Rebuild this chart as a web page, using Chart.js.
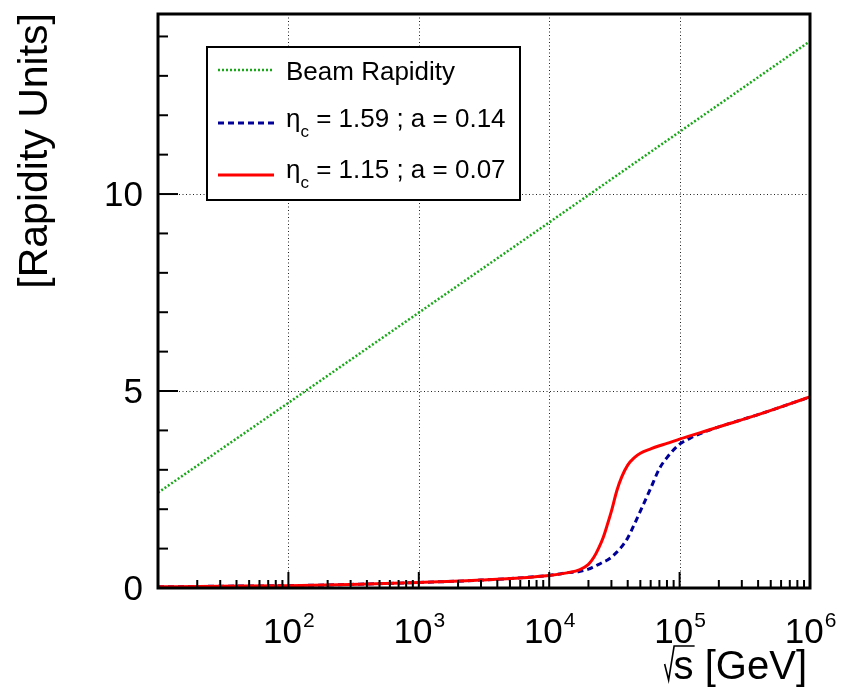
<!DOCTYPE html>
<html>
<head>
<meta charset="utf-8">
<script src="https://cdn.jsdelivr.net/npm/chart.js@4.4.0/dist/chart.umd.min.js"></script>
<style>
  html, body { margin: 0; padding: 0; background: #fff; }
  #wrap { width: 841px; height: 693px; }
</style>
</head>
<body>
<div id="wrap"><canvas id="rapidity"></canvas></div>
<script>
// sqrt(s) sample points in GeV (same for both eta_c curves)
const sqrtS = [10, 30, 100, 300, 1000, 3000, 10000, 14000, 17000, 20000, 22000, 24000, 26000, 28000,
  30000, 33000, 36000, 40000, 45000, 50000, 60000, 70000, 80000, 100000, 120000, 150000, 200000, 400000, 1000000];
// eta_c = 1.15 ; a = 0.07 (red, solid)
const redY = [0.03, 0.045, 0.06, 0.09, 0.14, 0.2, 0.32, 0.39, 0.46, 0.60, 0.78, 1.02, 1.29, 1.62,
  1.95, 2.47, 2.82, 3.12, 3.31, 3.42, 3.53, 3.61, 3.67, 3.78, 3.86, 3.96, 4.09, 4.40, 4.85];
// eta_c = 1.59 ; a = 0.14 (blue, dashed)
const blueY = [0.03, 0.045, 0.06, 0.09, 0.14, 0.2, 0.32, 0.39, 0.42, 0.48, 0.54, 0.60, 0.66, 0.71,
  0.78, 0.91, 1.05, 1.27, 1.62, 1.95, 2.53, 3.03, 3.31, 3.65, 3.80, 3.94, 4.09, 4.40, 4.85];
// beam rapidity (green, dotted)
const beamX = [10, 100, 1000, 10000, 100000, 1000000];
const beamY = [2.42, 4.70, 6.99, 9.28, 11.58, 13.88];

const xDecades = [10, 100, 1000, 10000, 100000, 1000000];
const xLabelExp = ['', '2', '3', '4', '5', '6'];
const yMajor = [0, 5, 10];
const yMinor = [1, 2, 3, 4, 6, 7, 8, 9, 11, 12, 13, 14];

const FONT = '"Liberation Sans", Arial, sans-serif';

const toPoints = (xs, ys) => xs.map((x, i) => ({ x: x, y: ys[i] }));

// ROOT-like frame, ticks, labels and legend
const rootFrame = {
  id: 'rootFrame',
  beforeDatasetsDraw(chart) {
    const { ctx, chartArea: a, scales: { x, y } } = chart;
    ctx.save();
    ctx.strokeStyle = '#222';
    ctx.lineWidth = 1;
    ctx.setLineDash([1, 2.5]);
    xDecades.slice(1, -1).forEach(v => {
      const px = Math.round(x.getPixelForValue(v)) + 0.5;
      ctx.beginPath(); ctx.moveTo(px, a.top); ctx.lineTo(px, a.bottom); ctx.stroke();
    });
    yMajor.slice(1).forEach(v => {
      const py = Math.round(y.getPixelForValue(v)) + 0.5;
      ctx.beginPath(); ctx.moveTo(a.left, py); ctx.lineTo(a.right, py); ctx.stroke();
    });
    ctx.restore();
  },
  afterDatasetsDraw(chart) {
    const { ctx, chartArea: a, scales: { x, y } } = chart;
    ctx.save();
    ctx.setLineDash([]);
    ctx.strokeStyle = '#000';
    ctx.fillStyle = '#000';

    // ticks on x axis (inside)
    ctx.lineWidth = 2;
    xDecades.forEach((d, i) => {
      const px = x.getPixelForValue(d);
      ctx.beginPath(); ctx.moveTo(px, a.bottom); ctx.lineTo(px, a.bottom - 16); ctx.stroke();
      if (i === xDecades.length - 1) return;
      for (let k = 2; k <= 9; k++) {
        const mx = x.getPixelForValue(d * k);
        ctx.beginPath(); ctx.moveTo(mx, a.bottom); ctx.lineTo(mx, a.bottom - 8); ctx.stroke();
      }
    });
    // ticks on y axis (inside)
    yMajor.forEach(v => {
      const py = y.getPixelForValue(v);
      ctx.beginPath(); ctx.moveTo(a.left, py); ctx.lineTo(a.left + 20, py); ctx.stroke();
    });
    yMinor.forEach(v => {
      const py = y.getPixelForValue(v);
      ctx.beginPath(); ctx.moveTo(a.left, py); ctx.lineTo(a.left + 10, py); ctx.stroke();
    });

    // frame
    ctx.lineWidth = 3;
    ctx.strokeRect(a.left, a.top, a.right - a.left, a.bottom - a.top);

    // y tick labels
    ctx.font = '35px ' + FONT;
    ctx.textAlign = 'right';
    ctx.textBaseline = 'alphabetic';
    yMajor.forEach(v => {
      ctx.fillText(String(v), a.left - 15, y.getPixelForValue(v) + 12);
    });

    // x tick labels 10^n
    xDecades.forEach((d, i) => {
      if (!xLabelExp[i]) return;
      const px = x.getPixelForValue(d);
      ctx.font = '35px ' + FONT;
      const wBase = ctx.measureText('10').width;
      ctx.font = '21px ' + FONT;
      const wExp = ctx.measureText(xLabelExp[i]).width;
      const left = px - (wBase + wExp) / 2;
      ctx.textAlign = 'left';
      ctx.font = '35px ' + FONT;
      ctx.fillText('10', left, a.bottom + 55);
      ctx.font = '21px ' + FONT;
      ctx.fillText(xLabelExp[i], left + wBase + 1, a.bottom + 39);
    });

    // x title: sqrt(s) [GeV]
    ctx.font = '40px ' + FONT;
    ctx.textAlign = 'right';
    const xt = 's [GeV]';
    const xtRight = a.right - 3;
    const xtBase = a.bottom + 91;
    ctx.fillText(xt, xtRight, xtBase);
    const sLeft = xtRight - ctx.measureText(xt).width;
    const sW = ctx.measureText('s').width;
    ctx.lineWidth = 1.6;
    ctx.beginPath();
    ctx.moveTo(sLeft - 9, xtBase - 15);
    ctx.lineTo(sLeft - 5, xtBase + 1);
    ctx.lineTo(sLeft + 0.5, xtBase - 33);
    ctx.lineTo(sLeft + sW + 1, xtBase - 33);
    ctx.stroke();

    // y title
    ctx.save();
    ctx.translate(47, a.top - 1);
    ctx.rotate(-Math.PI / 2);
    ctx.font = '41px ' + FONT;
    ctx.textAlign = 'right';
    ctx.fillText('[Rapidity Units]', 0, 0);
    ctx.restore();

    // legend
    const L = { left: 207, top: 47, right: 520, bottom: 200 };
    ctx.fillStyle = '#fff';
    ctx.fillRect(L.left, L.top, L.right - L.left, L.bottom - L.top);
    ctx.lineWidth = 2;
    ctx.strokeStyle = '#000';
    ctx.strokeRect(L.left, L.top, L.right - L.left, L.bottom - L.top);

    const rows = [
      { ds: 0, lineY: 70, base: 80 },
      { ds: 1, lineY: 123, base: 127 },
      { ds: 2, lineY: 175, base: 178 }
    ];
    rows.forEach(r => {
      const ds = chart.data.datasets[r.ds];
      ctx.save();
      ctx.strokeStyle = ds.borderColor;
      ctx.lineWidth = ds.borderWidth;
      ctx.setLineDash(ds.borderDash || []);
      ctx.beginPath(); ctx.moveTo(218, r.lineY); ctx.lineTo(274, r.lineY); ctx.stroke();
      ctx.restore();
      ctx.fillStyle = '#000';
      ctx.textAlign = 'left';
      const tx = 286;
      if (ds.legendMain) {
        ctx.font = '26px ' + FONT;
        ctx.fillText('\u03B7', tx, r.base);
        const wEta = ctx.measureText('\u03B7').width;
        ctx.font = '17px ' + FONT;
        ctx.fillText('c', tx + wEta, r.base + 10);
        const wc = ctx.measureText('c').width;
        ctx.font = '26px ' + FONT;
        ctx.fillText(ds.legendMain, tx + wEta + wc, r.base);
      } else {
        ctx.font = '26px ' + FONT;
        ctx.fillText(ds.label, tx, r.base);
      }
    });
    ctx.restore();
  }
};

new Chart(document.getElementById('rapidity'), {
  type: 'line',
  data: {
    datasets: [
      {
        label: 'Beam Rapidity',
        data: toPoints(beamX, beamY),
        borderColor: '#18a818',
        borderWidth: 2.5,
        borderDash: [2, 2],
        pointRadius: 0,
        order: 3
      },
      {
        label: '\u03B7c = 1.59 ; a = 0.14',
        legendMain: ' = 1.59 ; a = 0.14',
        data: toPoints(sqrtS, blueY),
        borderColor: '#000099',
        borderWidth: 3,
        borderDash: [6, 4],
        pointRadius: 0,
        cubicInterpolationMode: 'monotone',
        order: 2
      },
      {
        label: '\u03B7c = 1.15 ; a = 0.07',
        legendMain: ' = 1.15 ; a = 0.07',
        data: toPoints(sqrtS, redY),
        borderColor: '#ff0000',
        borderWidth: 3,
        pointRadius: 0,
        cubicInterpolationMode: 'monotone',
        order: 1
      }
    ]
  },
  options: {
    responsive: true,
    maintainAspectRatio: false,
    animation: false,
    layout: { padding: { left: 158, right: 31, top: 14, bottom: 105 } },
    plugins: {
      legend: { display: false },
      tooltip: { enabled: false }
    },
    scales: {
      x: { type: 'logarithmic', min: 10, max: 1000000, display: false },
      y: { type: 'linear', min: 0, max: 14.57, display: false }
    }
  },
  plugins: [rootFrame]
});
</script>
</body>
</html>
